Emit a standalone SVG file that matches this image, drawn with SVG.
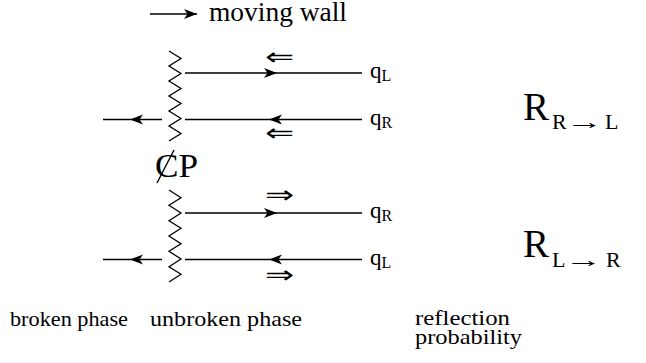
<svg xmlns="http://www.w3.org/2000/svg" width="646" height="363" viewBox="0 0 646 363">
<style>
.ln{stroke:#000;stroke-width:1.4;fill:none}
.zz{stroke:#000;stroke-width:1.3;fill:none;stroke-linejoin:miter}
text{font-family:'Liberation Serif','Times New Roman',serif;fill:#000}
</style>
<defs>
<marker id="ah" markerUnits="userSpaceOnUse" markerWidth="20" markerHeight="14" viewBox="-14 -7 16 14" refX="0" refY="0" orient="auto">
<path d="M0,0 L-13,-5 L-9.5,0 L-13,5 Z" fill="#000"/>
</marker>
</defs>
<g id="legend">
<path class="ln" d="M150,14 L197,14" marker-end="url(#ah)"/>
<text x="209" y="21" font-size="27" textLength="138" lengthAdjust="spacingAndGlyphs">moving wall</text>
</g>
<g id="wall-upper">
<polyline class="zz" points="169,51 181,58.5 169,66 181,73.5 169,81 181,88.5 169,96 181,103.5 169,111 181,118.5 169,126 181,133.5 169,141"/>
</g>
<g id="wall-lower">
<polyline class="zz" points="169,190 181,197.7 169,205.3 181,213 169,220.7 181,228.3 169,236 181,243.7 169,251.3 181,259 169,266.7 181,274.3 169,282"/>
</g>
<g id="connectors">
<path class="ln" d="M185,73 L277,73 L362,73" marker-mid="url(#ah)"/>
<path class="ln" d="M362,119.5 L269,119.5 L185,119.5" marker-mid="url(#ah)"/>
<path class="ln" d="M162,119.5 L130,119.5 L103,119.5" marker-mid="url(#ah)"/>
<path class="ln" d="M185,213 L277,213 L362,213" marker-mid="url(#ah)"/>
<path class="ln" d="M362,259.5 L269,259.5 L185,259.5" marker-mid="url(#ah)"/>
<path class="ln" d="M162,259.5 L130,259.5 L103,259.5" marker-mid="url(#ah)"/>
</g>
<g id="dir-arrows" font-size="24">
<text transform="translate(265,65) scale(1.45,1)">⇐</text>
<text transform="translate(265,141) scale(1.45,1)">⇐</text>
<text transform="translate(265,203) scale(1.45,1)">⇒</text>
<text transform="translate(265,283) scale(1.45,1)">⇒</text>
</g>
<g id="q-labels">
<text x="370" y="78" font-size="23">q<tspan font-size="16" dy="3">L</tspan></text>
<text x="370" y="124.5" font-size="23">q<tspan font-size="16" dy="3">R</tspan></text>
<text x="370" y="218" font-size="23">q<tspan font-size="16" dy="3">R</tspan></text>
<text x="370" y="264.5" font-size="23">q<tspan font-size="16" dy="3">L</tspan></text>
</g>
<g id="cp">
<text x="155" y="177" font-size="33" textLength="43" lengthAdjust="spacingAndGlyphs">CP</text>
<path class="ln" d="M157,183 L174,150"/>
</g>
<g id="R-RL">
<text x="523" y="120" font-size="39">R</text>
<text x="552" y="129" font-size="22">R</text>
<text transform="translate(566,129) scale(1.7,1)" font-size="22">→</text>
<text x="605" y="129" font-size="22">L</text>
</g>
<g id="R-LR">
<text x="523" y="257" font-size="39">R</text>
<text x="552" y="267" font-size="22">L</text>
<text transform="translate(565,267) scale(1.7,1)" font-size="22">→</text>
<text x="606" y="267" font-size="22">R</text>
</g>
<g id="captions" font-size="22">
<text x="10" y="326" textLength="118" lengthAdjust="spacingAndGlyphs">broken phase</text>
<text x="150" y="326" textLength="152" lengthAdjust="spacingAndGlyphs">unbroken phase</text>
<text x="415" y="325" textLength="95" lengthAdjust="spacingAndGlyphs">reflection</text>
<text x="415" y="344" textLength="107" lengthAdjust="spacingAndGlyphs">probability</text>
</g>
</svg>
